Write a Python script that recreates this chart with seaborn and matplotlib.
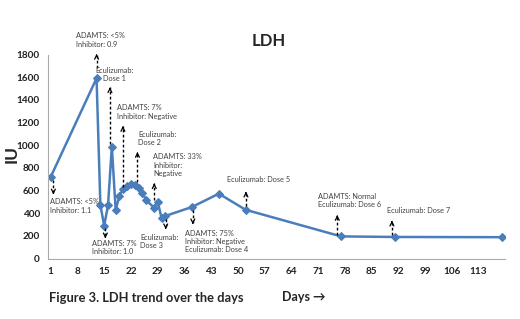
import matplotlib
matplotlib.use('Agg')
import matplotlib.pyplot as plt
import seaborn as sns
import pandas as pd

# LDH values (day, IU)
days = [1, 13, 14, 15, 16, 17, 18, 19, 20, 21, 22, 23, 24, 25, 26, 28, 29, 30, 31,
        38, 45, 52, 77, 91, 119]
ldh = [720, 1590, 470, 290, 470, 985, 430, 555, 615, 640, 655, 650, 625, 575, 515,
       450, 500, 360, 375, 455, 572, 430, 195, 190, 188]

x_ticks = list(range(1, 114, 7))
y_ticks = list(range(0, 1801, 200))

# annotation texts: (label, x, y, ha)
notes = [
    ('ADAMTS: <5%\nInhibitor: 0.9', 7.6, 1928, 'left'),
    ('Eculizumab:\nDose 1', 17.8, 1624, 'center'),
    ('ADAMTS: 7%\nInhibitor: Negative', 18.35, 1293, 'left'),
    ('Eculizumab:\nDose 2', 23.85, 1059, 'left'),
    ('ADAMTS: 33%\nInhibitor:\nNegative', 27.8, 821, 'left'),
    ('Eculizumab:\nDose 3', 24.4, 152, 'left'),
    ('ADAMTS: <5%\nInhibitor: 1.1', 0.8, 465, 'left'),
    ('ADAMTS: 7%\nInhibitor: 1.0', 11.7, 99, 'left'),
    ('ADAMTS: 75%\nInhibitor: Negative\nEculizumab: Dose 4', 36.2, 150, 'left'),
    ('Eculizumab: Dose 5', 47.1, 693, 'left'),
    ('ADAMTS: Normal\nEculizumab: Dose 6', 71.0, 510, 'left'),
    ('Eculizumab: Dose 7', 89.1, 422, 'left'),
]

# dashed arrows: (x, tail, head)
arrows = [
    (13.0, 1680, 1805),
    (16.5, 1010, 1511),
    (19.9, 630, 1169),
    (23.7, 675, 940),
    (28.1, 516, 664),
    (31.1, 350, 258),
    (1.7, 690, 565),
    (15.3, 270, 178),
    (38.2, 430, 302),
    (52.1, 460, 590),
    (76.0, 210, 384),
    (90.3, 210, 334),
]

sns.set_style('white')
plt.rcParams['font.family'] = ['Lato', 'DejaVu Sans']

df = pd.DataFrame({'Day': days, 'LDH': ldh})

fig = plt.figure(figsize=(5.2, 3.19), dpi=100)
ax = fig.add_axes([48.3 / 520, 1 - 258.5 / 319, (505 - 48.3) / 520, (258.5 - 54.5) / 319])

sns.lineplot(data=df, x='Day', y='LDH', ax=ax, color='#4a7ebb', linewidth=1.8,
             marker='D', markersize=4, markeredgecolor='#4a7ebb')

for x, tail, head in arrows:
    ax.plot([x, x], [tail, head], color='black', linestyle=(0, (2, 1.6)),
            linewidth=1, clip_on=False)
    step = 15 if head > tail else -15
    ax.annotate('', xy=(x, head), xytext=(x, head - step), annotation_clip=False,
                arrowprops=dict(arrowstyle='->', color='black', lw=0.9,
                                mutation_scale=7, shrinkA=0, shrinkB=0))

for label, x, y, ha in notes:
    ax.text(x, y, label, ha=ha, va='center', fontsize=5.3, color='#404040',
            linespacing=1.25, clip_on=False)

ax.set_xlim(0.37, 119.9)
ax.set_ylim(0, 1800)
ax.set_xticks(x_ticks)
ax.set_yticks(y_ticks)
ax.tick_params(axis='both', labelsize=7.2, colors='#222222', length=3, width=0.6)
ax.tick_params(axis='x', direction='inout', length=4, color='#999999', pad=4)
ax.tick_params(axis='y', direction='out', color='#999999', pad=3)
for lab in ax.get_xticklabels() + ax.get_yticklabels():
    lab.set_fontweight('bold')

for side in ['top', 'right']:
    ax.spines[side].set_visible(False)
for side in ['left', 'bottom']:
    ax.spines[side].set_color('#aaaaaa')
    ax.spines[side].set_linewidth(0.8)

ax.set_xlabel('')
ax.set_ylabel('')

fig.text(269 / 520, 1 - 41 / 319, 'LDH', ha='center', va='center',
         fontsize=12, fontweight='bold')
fig.text(12 / 520, 1 - 154 / 319, 'IU', ha='center', va='center', rotation=90,
         fontsize=12.5, fontweight='bold')
fig.text(49 / 520, 1 - 298 / 319, 'Figure 3. LDH trend over the days', ha='left',
         va='center', fontsize=9.3, fontweight='bold')
fig.text(282 / 520, 1 - 297 / 319, 'Days \u2192', ha='left', va='center',
         fontsize=9, fontweight='bold')

plt.savefig('out.png', dpi=100)
plt.close()
